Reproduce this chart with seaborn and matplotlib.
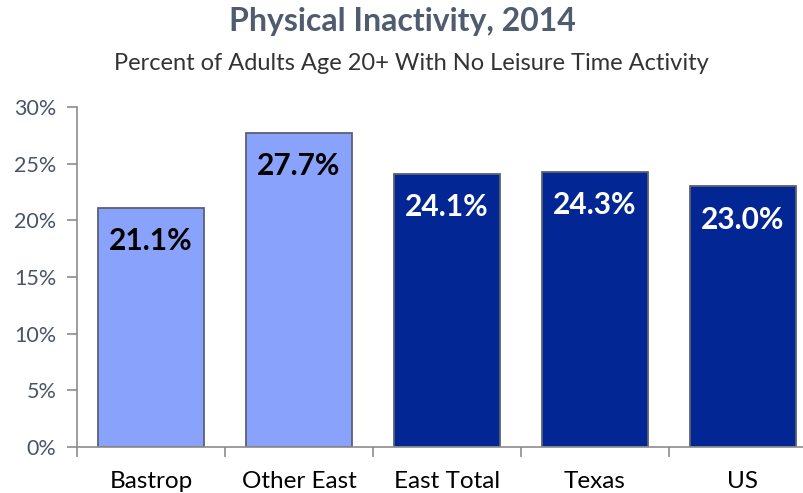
import matplotlib
matplotlib.use("Agg")
import matplotlib.pyplot as plt
import seaborn as sns
import numpy as np

# chart data
regions = ["Bastrop", "Other East", "East Total", "Texas", "US"]
pct_inactive = [21.1, 27.7, 24.1, 24.3, 23.0]
bar_colors = ["#89A3FC", "#89A3FC", "#022795", "#022795", "#022795"]
label_colors = ["black", "black", "white", "white", "white"]
yticks = [0, 5, 10, 15, 20, 25, 30]

sns.set_style("white")
plt.rcParams["font.family"] = ["Lato", "DejaVu Sans"]

fig = plt.figure(figsize=(8.04, 4.93), dpi=100)
ax = fig.add_axes([77 / 804, 46 / 493, 740 / 804, 340 / 493])

sns.barplot(x=regions, y=pct_inactive, hue=regions, palette=bar_colors,
            legend=False, width=0.72, edgecolor="#5A6172", linewidth=1.3,
            saturation=1, ax=ax)

# value labels inside the bars
for i, v in enumerate(pct_inactive):
    ax.annotate(f"{v:.1f}%", (i, v), xytext=(0, -24), textcoords="offset points",
                ha="center", va="center", fontsize=21.5, fontweight="bold",
                color=label_colors[i])

ax.set_xlim(-0.5, 4.5)
ax.set_ylim(0, 30)
ax.set_yticks(yticks)
ax.set_yticklabels([f"{t}%" for t in yticks], fontsize=15.5, color="#4A5468")
ax.set_xticks(range(len(regions)))
ax.set_xticklabels(regions, fontsize=17.5, color="black")
ax.tick_params(axis="x", length=0, pad=17)
ax.tick_params(axis="y", length=7, width=1.2, color="#8C8C8C", pad=8, direction="out", left=True)
# tick marks between categories
ax.set_xticks(np.arange(-0.5, 4.6, 1), minor=True)
ax.tick_params(axis="x", which="minor", length=7, width=1.2, color="#8C8C8C", direction="out", bottom=True)

for side in ["top", "right"]:
    ax.spines[side].set_visible(False)
for side in ["left", "bottom"]:
    ax.spines[side].set_color("#8C8C8C")
    ax.spines[side].set_linewidth(1.2)
ax.set_xlabel("")
ax.set_ylabel("")

fig.text(0.5, 1 - 22 / 493, "Physical Inactivity, 2014", ha="center", va="center",
         fontsize=23, fontweight="bold", color="#4F5B6E")
fig.text(0.512, 1 - 63 / 493, "Percent of Adults Age 20+ With No Leisure Time Activity",
         ha="center", va="center", fontsize=17, color="#333333")

fig.savefig("out.png", dpi=100)
